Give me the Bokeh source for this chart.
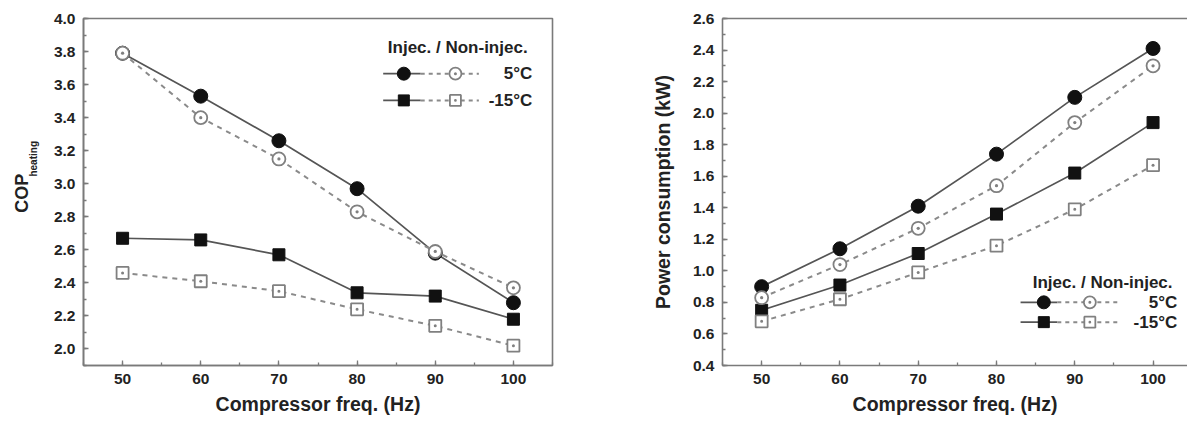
import math
from bokeh.plotting import figure
from bokeh.models import (Range1d, SingleIntervalTicker, FixedTicker, LinearAxis, Label,
                          PrintfTickFormatter)
from bokeh.layouts import row
from bokeh.embed import file_html
from bokeh.resources import INLINE
from bokeh.core.properties import value

# ---------------- data ----------------
freq = [50, 60, 70, 80, 90, 100]

cop_inj_5 = [3.79, 3.53, 3.26, 2.97, 2.58, 2.28]
cop_non_5 = [3.79, 3.40, 3.15, 2.83, 2.59, 2.37]
cop_inj_m15 = [2.67, 2.66, 2.57, 2.34, 2.32, 2.18]
cop_non_m15 = [2.46, 2.41, 2.35, 2.24, 2.14, 2.02]

pw_inj_5 = [0.90, 1.14, 1.41, 1.74, 2.10, 2.41]
pw_non_5 = [0.83, 1.04, 1.27, 1.54, 1.94, 2.30]
pw_inj_m15 = [0.75, 0.91, 1.11, 1.36, 1.62, 1.94]
pw_non_m15 = [0.68, 0.82, 0.99, 1.16, 1.39, 1.67]

x_label = "Compressor freq. (Hz)"
y_label_left_main = "COP"
y_label_left_sub = "heating"
y_label_right = "Power consumption (kW)"
legend_title = "Injec. /  Non-injec."
legend_labels = ["5°C", "-15°C"]

# ---------------- style ----------------
FONT = "Liberation Sans"
TXT = "#222222"
FRAME = "#7a7a7a"
SOLID = "#555555"
DASH = "#8a8a8a"
FILL = "#111111"
OPEN = "#808080"
H = 423


def style(p, frame_box=True):
    p.xgrid.visible = False
    p.ygrid.visible = False
    p.background_fill_color = "white"
    p.border_fill_color = "white"
    if frame_box:
        p.outline_line_color = FRAME
        p.outline_line_width = 1.6
    else:
        p.outline_line_color = None
    for ax in list(p.xaxis) + list(p.yaxis):
        ax.axis_line_color = FRAME
        ax.axis_line_width = 1.6
        ax.major_tick_in = 5
        ax.major_tick_out = 0
        ax.minor_tick_in = 3
        ax.minor_tick_out = 0
        ax.major_tick_line_color = FRAME
        ax.minor_tick_line_color = FRAME
        ax.major_tick_line_width = 1.3
        ax.minor_tick_line_width = 1.3
        ax.major_label_text_font = FONT
        ax.major_label_text_font_style = "bold"
        ax.major_label_text_font_size = "15.5px"
        ax.major_label_text_color = TXT
        ax.major_label_standoff = 8
        ax.axis_label_text_font = FONT
        ax.axis_label_text_font_style = "bold"
        ax.axis_label_text_font_size = "19.5px"
        ax.axis_label_text_color = TXT
    p.xaxis.ticker = SingleIntervalTicker(interval=10, num_minor_ticks=2)
    p.yaxis.ticker = SingleIntervalTicker(interval=0.2, num_minor_ticks=2)
    p.yaxis.formatter = PrintfTickFormatter(format="%.1f")
    p.xaxis.axis_label = x_label
    p.xaxis.axis_label_standoff = 6


def draw_series(p, inj5, non5, inj15, non15):
    p.line(freq, inj5, line_color=SOLID, line_width=1.7)
    p.line(freq, non5, line_color=DASH, line_width=2, line_dash="5 5")
    p.line(freq, inj15, line_color=SOLID, line_width=1.7)
    p.line(freq, non15, line_color=DASH, line_width=2, line_dash="5 5")
    p.scatter(freq, inj5, marker="circle", size=14, fill_color=FILL, line_color=FILL)
    p.scatter(freq, inj15, marker="square", size=12, fill_color=FILL, line_color=FILL)
    p.scatter(freq, non5, marker="circle_dot", size=13, fill_color="white",
              line_color=OPEN, line_width=1.8)
    p.scatter(freq, non15, marker="square_dot", size=12, fill_color="white",
              line_color=OPEN, line_width=1.8)


def draw_legend(p, xr, yr, fx, fy_title, fy_rows):
    """fx: fractions of frame width (line start, filled marker, solid end,
    open marker, dash end, text right); fy: fractions from frame top."""
    x0, x1 = xr
    y0, y1 = yr
    X = lambda f: x0 + f * (x1 - x0)
    Y = lambda f: y1 - f * (y1 - y0)
    ls, fm, se, om, de, tr = fx
    p.add_layout(Label(x=X(tr), y=Y(fy_title), text=legend_title, text_align="right",
                       text_baseline="middle", text_font=FONT, text_font_style="bold",
                       text_font_size="17px", text_color=TXT))
    markers = [("circle", "circle_dot", 13, 12), ("square", "square_dot", 11, 11)]
    for (mf, mo, sf, so), lab, fr in zip(markers, legend_labels, fy_rows):
        yy = Y(fr)
        p.line([X(ls), X(se)], [yy, yy], line_color=SOLID, line_width=1.7)
        p.line([X(se), X(de)], [yy, yy], line_color=DASH, line_width=2, line_dash="4 4")
        p.scatter([X(fm)], [yy], marker=mf, size=sf, fill_color=FILL, line_color=FILL)
        p.scatter([X(om)], [yy], marker=mo, size=so, fill_color="white",
                  line_color=OPEN, line_width=1.8)
        p.add_layout(Label(x=X(tr), y=yy, text=lab, text_align="right",
                           text_baseline="middle", text_font=FONT, text_font_style="bold",
                           text_font_size="17px", text_color=TXT))


# ---------------- left y-axis title strip ----------------
W0 = 45
p0 = figure(width=W0, height=H, x_range=Range1d(0, W0), y_range=Range1d(0, H),
            min_border=0, x_axis_type=None, y_axis_type=None,
            output_backend="svg", toolbar_location=None)
p0.outline_line_color = None
p0.xgrid.visible = False
p0.ygrid.visible = False
p0.text(x=[21.7], y=[H - 213], text=[y_label_left_main], angle=math.pi / 2,
        text_align="center", text_baseline="middle", text_font=value(FONT),
        text_font_style="bold", text_font_size="18px", text_color=TXT)
p0.text(x=[33], y=[H - 171], text=[y_label_left_sub], angle=math.pi / 2,
        text_align="center", text_baseline="middle", text_font=value(FONT),
        text_font_style="bold", text_font_size="10px", text_color=TXT)

# ---------------- left chart ----------------
LX = (45, 105)
LY = (1.9, 4.0)
p1 = figure(width=595, height=H, x_range=Range1d(*LX), y_range=Range1d(*LY),
            min_border_left=38, min_border_right=88, min_border_top=18,
            min_border_bottom=58, output_backend="svg", toolbar_location=None)
style(p1, frame_box=True)
draw_series(p1, cop_inj_5, cop_non_5, cop_inj_m15, cop_non_m15)
draw_legend(p1, LX, LY, (0.639, 0.683, 0.719, 0.793, 0.843, 0.957),
            0.083, (0.159, 0.236))

# ---------------- right chart ----------------
RX = (45, 104.4)
RY = (0.4, 2.6)
p2 = figure(width=547, height=H, x_range=Range1d(*RX), y_range=Range1d(*RY),
            min_border_left=82, min_border_right=0, min_border_top=18,
            min_border_bottom=58, output_backend="svg", toolbar_location=None)
style(p2, frame_box=False)
top = LinearAxis(ticker=FixedTicker(ticks=[]), major_tick_in=0, major_tick_out=0,
                 minor_tick_in=0, minor_tick_out=0, axis_line_color=FRAME,
                 axis_line_width=1.6)
p2.add_layout(top, "above")
p2.yaxis[0].axis_label = y_label_right
p2.yaxis[0].axis_label_standoff = 16
draw_series(p2, pw_inj_5, pw_non_5, pw_inj_m15, pw_non_m15)
draw_legend(p2, RX, RY, (0.641, 0.691, 0.72, 0.79, 0.849, 0.978),
            0.76, (0.818, 0.875))

layout = row(p0, p1, p2, spacing=0)
open("out.html", "w").write(file_html(layout, INLINE))
